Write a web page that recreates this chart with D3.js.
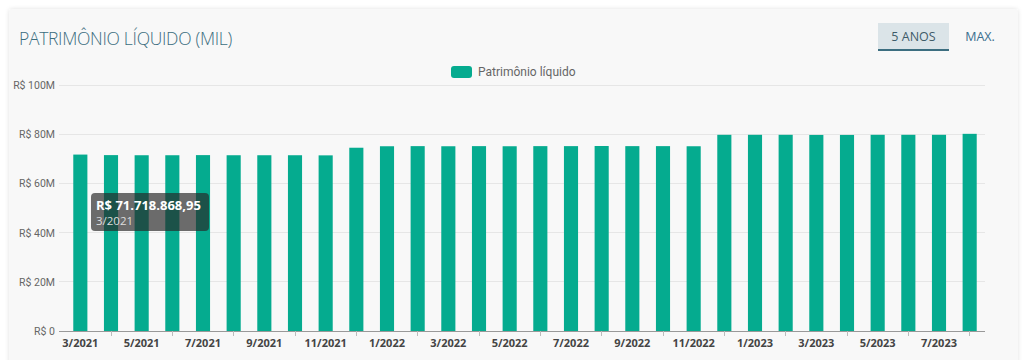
<!DOCTYPE html>
<html><head><meta charset="utf-8">
<script src="https://cdn.jsdelivr.net/npm/d3@7"></script>
<style>
html,body{margin:0;padding:0;background:#ffffff;}
svg{display:block;font-family:"Open Sans","Noto Sans",sans-serif;}
</style></head>
<body>
<svg id="c" width="1024" height="360"></svg>
<script>
const months = ["3/2021","4/2021","5/2021","6/2021","7/2021","8/2021","9/2021","10/2021","11/2021","12/2021",
"1/2022","2/2022","3/2022","4/2022","5/2022","6/2022","7/2022","8/2022","9/2022","10/2022","11/2022","12/2022",
"1/2023","2/2023","3/2023","4/2023","5/2023","6/2023","7/2023","8/2023"];
const values = [71718868.95,71500000,71450000,71450000,71500000,71450000,71450000,71450000,71400000,74500000,
75100000,75150000,75100000,75150000,75100000,75150000,75150000,75200000,75150000,75150000,75100000,79750000,
79750000,79750000,79700000,79700000,79750000,79750000,79750000,80150000];
const yTicks = [0,20e6,40e6,60e6,80e6,100e6];
const yTickLabels = ["R$ 0","R$ 20M","R$ 40M","R$ 60M","R$ 80M","R$ 100M"];
const seriesName = "Patrimônio líquido";
const title = "PATRIMÔNIO LÍQUIDO (MIL)";
const tooltipValue = "R$ 71.718.868,95";
const tooltipLabel = "3/2021";

const svg = d3.select("#c");
const color = "#05ab8f";

// card
const defs = svg.append("defs");
const f = defs.append("filter").attr("id","sh").attr("x","-5%").attr("y","-5%").attr("width","110%").attr("height","110%");
f.append("feDropShadow").attr("dx",0).attr("dy",0).attr("stdDeviation",2).attr("flood-color","#000").attr("flood-opacity",0.12);
svg.append("rect").attr("x",9).attr("y",9).attr("width",1009).attr("height",370).attr("rx",3)
  .attr("fill","#f8f8f8").attr("filter","url(#sh)");

svg.append("text").attr("x",19).attr("y",45).text(title)
  .attr("font-size",17.5).attr("font-weight",300).attr("fill","#3b6d7e").attr("letter-spacing","-0.3");

// buttons
svg.append("rect").attr("x",878).attr("y",23).attr("width",71).attr("height",26).attr("fill","#dbe4e8");
svg.append("rect").attr("x",878).attr("y",49).attr("width",71).attr("height",2).attr("fill","#3c6e80");
svg.append("text").attr("x",913.5).attr("y",41).attr("text-anchor","middle").text("5 ANOS")
  .attr("font-size",12.5).attr("fill","#3e5b68");
svg.append("text").attr("x",980).attr("y",41).attr("text-anchor","middle").text("MAX.")
  .attr("font-size",12.5).attr("fill","#3b6f8f");

// legend
svg.append("rect").attr("x",451).attr("y",66).attr("width",21).attr("height",12).attr("rx",3).attr("fill",color);
svg.append("text").attr("x",478).attr("y",76).text(seriesName).attr("font-size",12)
  .attr("font-family","Roboto, sans-serif").attr("fill","#666");

const m = {l:65, r:985, t:85, b:331};
const x = d3.scaleBand().domain(months).range([m.l, m.r]).paddingInner(0.54).paddingOuter(0.27);
const y = d3.scaleLinear().domain([0,100e6]).range([m.b, m.t]);

// grid
const g = svg.append("g");
g.selectAll("line.grid").data(yTicks).join("line")
  .attr("x1",m.l-6).attr("x2",m.r).attr("y1",d=>y(d)).attr("y2",d=>y(d))
  .attr("stroke",d=>d===0?"#9a9a9a":"#e6e6e6").attr("stroke-width",1).attr("shape-rendering","crispEdges");
g.selectAll("text.yl").data(yTicks).join("text")
  .attr("x",m.l-10).attr("y",d=>y(d)+4).attr("text-anchor","end")
  .text((d,i)=>yTickLabels[i]).attr("font-size",10.5).attr("font-family","Roboto, sans-serif").attr("fill","#666");

// bars
svg.append("g").selectAll("rect").data(values).join("rect")
  .attr("x",(d,i)=>x(months[i])).attr("width",x.bandwidth())
  .attr("y",d=>y(d)).attr("height",d=>y(0)-y(d)).attr("fill",color);

// x axis line and ticks
svg.append("line").attr("x1",m.l).attr("x2",m.r).attr("y1",m.b+0.5).attr("y2",m.b+0.5).attr("stroke","#999");
svg.append("g").selectAll("line").data(months.filter((d,i)=>i%2===1)).join("line")
  .attr("x1",d=>x(d)+x.bandwidth()/2).attr("x2",d=>x(d)+x.bandwidth()/2)
  .attr("y1",m.b).attr("y2",m.b+5).attr("stroke","#bbb").attr("shape-rendering","crispEdges");
svg.append("g").selectAll("text").data(months.filter((d,i)=>i%2===0)).join("text")
  .attr("x",d=>x(d)+x.bandwidth()/2).attr("y",m.b+16).attr("text-anchor","middle")
  .text(d=>d).attr("font-size",11).attr("font-weight",700).attr("fill","#444");

// tooltip
const tt = svg.append("g");
tt.append("rect").attr("x",91).attr("y",193).attr("width",118).attr("height",38).attr("rx",4)
  .attr("fill","rgba(40,40,40,0.68)");
tt.append("text").attr("x",96).attr("y",210).text(tooltipValue).attr("font-size",13).attr("font-weight",700).attr("fill","#fff");
tt.append("text").attr("x",96).attr("y",225).text(tooltipLabel).attr("font-size",11.5).attr("fill","#ddd");
</script>
</body></html>
